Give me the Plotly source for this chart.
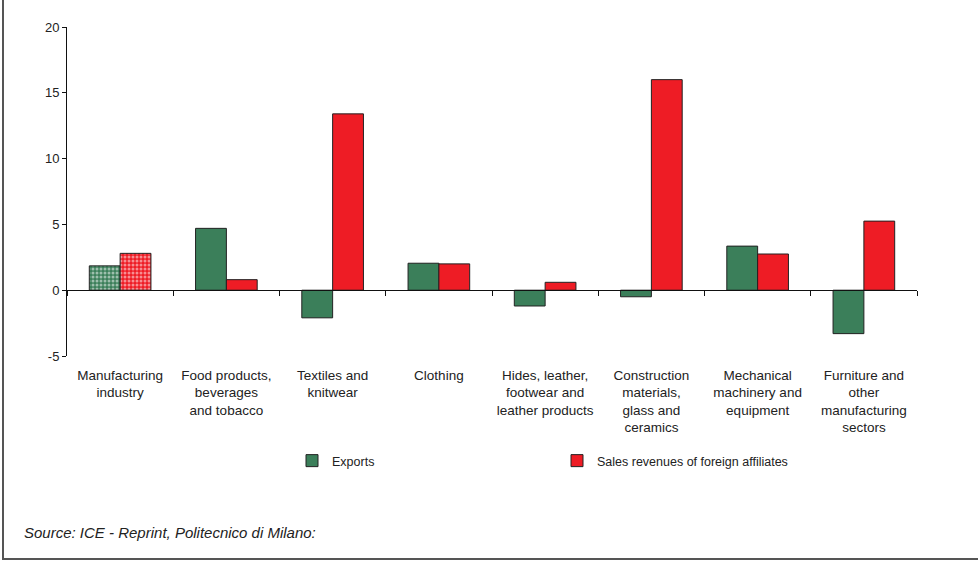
import plotly.graph_objects as go

categories = [
    "Manufacturing<br>industry",
    "Food products,<br>beverages<br>and tobacco",
    "Textiles and<br>knitwear",
    "Clothing",
    "Hides, leather,<br>footwear and<br>leather products",
    "Construction<br>materials,<br>glass and<br>ceramics",
    "Mechanical<br>machinery and<br>equipment",
    "Furniture and<br>other<br>manufacturing<br>sectors",
]
exports = [1.85, 4.7, -2.1, 2.05, -1.2, -0.5, 3.35, -3.3]
sales = [2.8, 0.8, 13.4, 2.0, 0.6, 16.0, 2.75, 5.25]
y_ticks = [-5, 0, 5, 10, 15, 20]
y_tick_labels = ["-5", "0", "5", "10", "15", "20"]

GREEN = "#3b7f5a"
RED = "#ee1c25"
FONT = "Liberation Sans, Arial, sans-serif"
LINE = dict(color="#222222", width=1)

fig = go.Figure()
# sector bars (solid) - the aggregate "Manufacturing industry" is drawn hatched
fig.add_trace(go.Bar(
    x=categories[1:], y=exports[1:], name="Exports", offsetgroup="e",
    marker=dict(color=GREEN, line=LINE),
))
fig.add_trace(go.Bar(
    x=categories[:1], y=exports[:1], name="Exports", offsetgroup="e",
    showlegend=False,
    marker=dict(color=GREEN, line=LINE,
                pattern=dict(shape=".", fgcolor="white", size=4,
                             solidity=0.45, fillmode="overlay")),
))
fig.add_trace(go.Bar(
    x=categories[1:], y=sales[1:], name="Sales revenues of foreign affiliates",
    offsetgroup="s",
    marker=dict(color=RED, line=LINE),
))
fig.add_trace(go.Bar(
    x=categories[:1], y=sales[:1], name="Sales revenues of foreign affiliates",
    offsetgroup="s", showlegend=False,
    marker=dict(color=RED, line=LINE,
                pattern=dict(shape=".", fgcolor="white", size=4,
                             solidity=0.45, fillmode="overlay")),
))
# invisible helper trace for the axis line at y=0
fig.add_trace(go.Scatter(x=categories, y=[0] * len(categories), xaxis="x2",
                         mode="markers", marker=dict(opacity=0), showlegend=False,
                         hoverinfo="skip"))

W, H = 978, 563
L, R, T, B = 67, 61, 27, 207
pw, ph = W - L - R, H - T - B


def px(x):
    return (x - L) / pw


def py(y):
    return (H - B - y) / ph


fig.update_layout(
    width=W, height=H,
    margin=dict(l=L, r=R, t=T, b=B, autoexpand=False),
    paper_bgcolor="white", plot_bgcolor="white",
    barmode="group", bargap=0.42, bargroupgap=0,
    font=dict(family=FONT, size=13, color="#222222"),
    xaxis=dict(type="category", categoryarray=categories, range=[-0.5, 7.5],
               showline=False, ticks="", showgrid=False, zeroline=False,
               tickfont=dict(size=13.5, color="#222222"), ticklabelstandoff=9),
    xaxis2=dict(type="category", categoryarray=categories, range=[-0.5, 7.5],
                overlaying="x", anchor="free", position=0.2,
                showline=True, linecolor="#111111", linewidth=1,
                ticks="outside", ticklen=5, tickcolor="#111111",
                tickson="boundaries", showticklabels=False, showgrid=False,
                zeroline=False),
    yaxis=dict(range=[-5, 20], tickvals=y_ticks, ticktext=y_tick_labels,
               showgrid=False,
               showline=True, linecolor="#111111", linewidth=1,
               ticks="outside", ticklen=4, tickcolor="#111111",
               zeroline=False, tickfont=dict(size=13, color="#222222")),
    legend=dict(orientation="h", x=px(292), y=py(461), xanchor="left",
                yanchor="middle", entrywidth=220, entrywidthmode="pixels",
                font=dict(size=12.5, color="#222222"), itemwidth=30,
                traceorder="normal"),
    showlegend=True,
)

fig.add_annotation(text="<i>Source: ICE - Reprint, Politecnico di Milano:</i>",
                   xref="paper", yref="paper", x=px(22), y=py(532),
                   xanchor="left", yanchor="middle", showarrow=False,
                   font=dict(size=15, color="#222222"))

fig.add_shape(type="rect", xref="paper", yref="paper",
              x0=px(3), x1=px(1000), y0=py(559), y1=py(-20),
              line=dict(color="#555555", width=2), layer="below")

fig.write_html("out.html", config={"displayModeBar": False},
               post_script="document.body.style.margin='0';")
